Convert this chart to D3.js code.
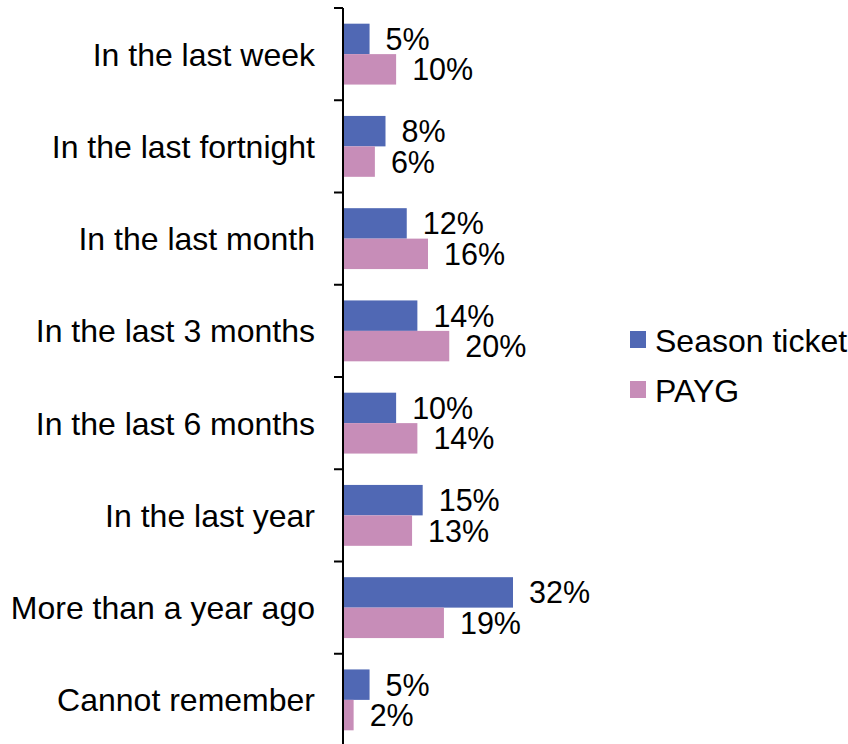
<!DOCTYPE html>
<html>
<head>
<meta charset="utf-8">
<script src="https://cdnjs.cloudflare.com/ajax/libs/d3/7.8.5/d3.min.js"></script>
<style>
  body { margin: 0; background: #fff; }
  text { font-family: "Liberation Sans", Arial, sans-serif; fill: #000; }
</style>
</head>
<body>
<svg id="chart" width="848" height="744"></svg>
<script>
// Chart data
var categories = ["In the last week", "In the last fortnight", "In the last month",
  "In the last 3 months", "In the last 6 months", "In the last year",
  "More than a year ago", "Cannot remember"];
var seriesNames = ["Season ticket", "PAYG"];
var seasonTicket = [5, 8, 12, 14, 10, 15, 32, 5];
var payg = [10, 6, 16, 20, 14, 13, 19, 2];

var colors = ["#5068B4", "#C78DB8"];
var fontSize = 32;
var valueFontSize = 30.5;

var svg = d3.select("#chart");

var axisX = 343;

// Scales
var yScale = d3.scaleBand()
  .domain(categories)
  .range([8, 746])
  .paddingInner(0.34)
  .paddingOuter(0.17);

var subScale = d3.scaleBand()
  .domain(seriesNames)
  .range([0, yScale.bandwidth()]);

var xScale = d3.scaleLinear()
  .domain([0, 32])
  .range([axisX, axisX + 170]);

var rows = categories.map(function(c, i) {
  return { cat: c, values: [seasonTicket[i], payg[i]] };
});

// Bars and labels
var group = svg.selectAll(".row")
  .data(rows)
  .enter().append("g")
  .attr("class", "row")
  .attr("transform", function(d) { return "translate(0," + yScale(d.cat) + ")"; });

group.selectAll("rect")
  .data(function(d) { return d.values.map(function(v, j) { return { name: seriesNames[j], v: v, j: j }; }); })
  .enter().append("rect")
  .attr("x", xScale(0))
  .attr("y", function(d) { return subScale(d.name); })
  .attr("width", function(d) { return xScale(d.v) - xScale(0); })
  .attr("height", subScale.bandwidth())
  .style("fill", function(d) { return colors[d.j]; });

group.selectAll(".val")
  .data(function(d) { return d.values.map(function(v, j) { return { name: seriesNames[j], v: v, j: j }; }); })
  .enter().append("text")
  .attr("class", "val")
  .attr("x", function(d) { return xScale(d.v) + 16; })
  .attr("y", function(d) { return subScale(d.name) + subScale.bandwidth() / 2; })
  .attr("dy", "0.36em")
  .style("font-size", valueFontSize + "px")
  .text(function(d) { return d.v + "%"; });

// Category labels
svg.selectAll(".cat")
  .data(categories)
  .enter().append("text")
  .attr("class", "cat")
  .attr("x", 315)
  .attr("y", function(d) { return yScale(d) + yScale.bandwidth() / 2; })
  .attr("dy", "0.36em")
  .style("text-anchor", "end")
  .style("font-size", fontSize + "px")
  .text(function(d) { return d; });

// Axis line with ticks at category boundaries
var step = yScale.step();
var start = yScale.range()[0];
svg.append("line")
  .attr("x1", axisX).attr("x2", axisX)
  .attr("y1", start).attr("y2", yScale.range()[1])
  .style("stroke", "#000").style("stroke-width", 2);

svg.selectAll(".tick")
  .data(d3.range(categories.length + 1))
  .enter().append("line")
  .attr("class", "tick")
  .attr("x1", axisX - 9).attr("x2", axisX)
  .attr("y1", function(i) { return start + i * step; })
  .attr("y2", function(i) { return start + i * step; })
  .style("stroke", "#000").style("stroke-width", 2);

// Legend
var legend = svg.selectAll(".legend")
  .data(seriesNames)
  .enter().append("g")
  .attr("class", "legend")
  .attr("transform", function(d, i) { return "translate(630," + (331 + i * 50) + ")"; });

legend.append("rect")
  .attr("width", 16)
  .attr("height", 17)
  .style("fill", function(d, i) { return colors[i]; });

legend.append("text")
  .attr("x", 25)
  .attr("y", 9)
  .attr("dy", "0.36em")
  .style("font-size", fontSize + "px")
  .text(function(d) { return d; });
</script>
</body>
</html>
